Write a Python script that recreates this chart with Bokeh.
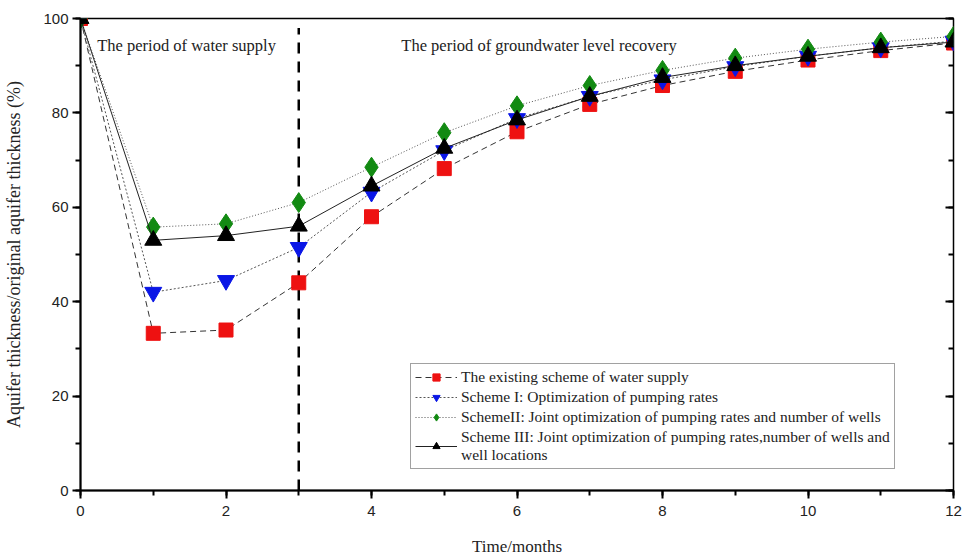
from bokeh.plotting import figure
from bokeh.models import (Range1d, LinearAxis, FixedTicker, Legend, LegendItem,
                          CustomJSTickFormatter)
from bokeh.core.properties import value
from bokeh.embed import file_html
from bokeh.resources import INLINE

months = [0, 1, 2, 3, 4, 5, 6, 7, 8, 9, 10, 11, 12]
existing = [100, 33.3, 34.0, 44.0, 58.0, 68.2, 76.0, 81.8, 85.8, 88.8, 91.2, 93.2, 94.8]
scheme1 = [100, 42.0, 44.5, 51.5, 63.2, 72.0, 78.8, 83.5, 87.0, 89.8, 92.0, 93.8, 95.2]
scheme2 = [100, 55.8, 56.5, 61.0, 68.5, 75.8, 81.5, 85.8, 89.0, 91.6, 93.5, 95.0, 96.2]
scheme3 = [100, 53.0, 54.0, 56.0, 64.5, 72.5, 78.5, 83.5, 87.5, 90.0, 92.0, 93.8, 95.0]

labels = [
    "The existing scheme of water supply",
    "Scheme I: Optimization of pumping rates",
    "SchemeII: Joint optimization of pumping rates and number of wells",
    "Scheme III: Joint optimization of pumping rates,number of wells and\nwell locations",
]
annot_text = ["The period of water supply", "The period of groundwater level recovery"]
annot_x = [0.23, 4.41]
annot_y = [94.3, 94.3]
divider_x = 3
divider_top = 98

serif = "Liberation Serif"
sans = "Liberation Sans"

p = figure(width=962, height=558, output_backend="svg", toolbar_location=None,
           x_range=Range1d(0, 12), y_range=Range1d(0, 100),
           min_border_left=80, min_border_right=9, min_border_top=18, min_border_bottom=67)
p.grid.visible = False
p.outline_line_color = "black"
p.outline_line_width = 1.5
p.background_fill_color = "white"

# axes
p.xaxis.ticker = FixedTicker(ticks=list(range(0, 13, 2)), minor_ticks=list(range(0, 13)))
p.yaxis.ticker = FixedTicker(ticks=list(range(0, 101, 20)), minor_ticks=list(range(0, 101, 10)))
for ax in (p.xaxis[0], p.yaxis[0]):
    ax.axis_line_width = 2
    ax.major_tick_line_width = 2
    ax.minor_tick_line_width = 2
    ax.major_tick_out = 8
    ax.major_tick_in = 0
    ax.minor_tick_out = 5
    ax.minor_tick_in = 0
    ax.major_label_text_font = sans
    ax.major_label_text_font_size = "15px"
    ax.major_label_text_color = "#222222"
    ax.axis_label_text_font = serif
    ax.axis_label_text_font_style = "normal"
    ax.axis_label_text_color = "#222222"
p.xaxis.axis_label = "Time/months"
p.xaxis.axis_label_text_font_size = "17px"
p.xaxis.major_label_standoff = 7
p.xaxis.axis_label_standoff = 18
p.yaxis.axis_label = "Aquifer thickness/original aquifer thickness (%)"
p.yaxis.axis_label_text_font_size = "18px"
p.yaxis.major_label_standoff = 4
p.yaxis.axis_label_standoff = 16

right = LinearAxis(ticker=FixedTicker(ticks=list(range(0, 101, 20)), minor_ticks=list(range(0, 101, 10))),
                   formatter=CustomJSTickFormatter(code="return ''"))
right.axis_line_color = None
right.major_tick_in = 8
right.major_tick_out = 0
right.minor_tick_in = 5
right.minor_tick_out = 0
right.major_tick_line_width = 2
right.minor_tick_line_width = 2
right.major_label_standoff = 0
right.axis_label_standoff = 0
right.major_label_text_font_size = "0px"
p.add_layout(right, "right")

# divider and annotations
p.segment(x0=[divider_x], y0=[0], x1=[divider_x], y1=[divider_top],
          line_color="black", line_width=2.5, line_dash="11 8")
p.text(x=annot_x, y=annot_y, text=annot_text, text_font=value(serif),
       text_font_size="16.5px", text_baseline="middle", text_color="#222222")

items = []
l0 = p.line(months, existing, line_color="#333333", line_width=1, line_dash="6 4")
m0 = p.scatter(months, existing, marker="square", size=14, fill_color="#ee1111", line_color="#ee1111")
items.append(LegendItem(label=labels[0], renderers=[l0, m0]))

l1 = p.line(months, scheme1, line_color="#555555", line_width=1, line_dash="2 2")
m1 = p.scatter(months, scheme1, marker="inverted_triangle", size=17, fill_color="#0a16e6", line_color="#0a16e6")
items.append(LegendItem(label=labels[1], renderers=[l1, m1]))

l2 = p.line(months, scheme2, line_color="#555555", line_width=1, line_dash="1 2")
m2 = p.scatter(months, scheme2, marker="diamond", size=20, fill_color="#128a12", line_color="#128a12")
items.append(LegendItem(label=labels[2], renderers=[l2, m2]))

l3 = p.line(months, scheme3, line_color="#222222", line_width=1)
m3 = p.scatter(months, scheme3, marker="triangle", size=17, fill_color="black", line_color="black")
items.append(LegendItem(label=labels[3], renderers=[l3, m3]))

legend = Legend(items=items, location=(330, 21))
legend.label_text_font = serif
legend.label_text_font_size = "15.5px"
legend.label_text_color = "#222222"
legend.label_height = 18
legend.glyph_width = 42
legend.glyph_height = 18
legend.spacing = 2
legend.padding = 4
legend.margin = 0
legend.label_standoff = 4
legend.border_line_color = "#444444"
legend.border_line_width = 1
legend.background_fill_alpha = 1
p.add_layout(legend, "center")

open("out.html", "w").write(file_html(p, INLINE))
